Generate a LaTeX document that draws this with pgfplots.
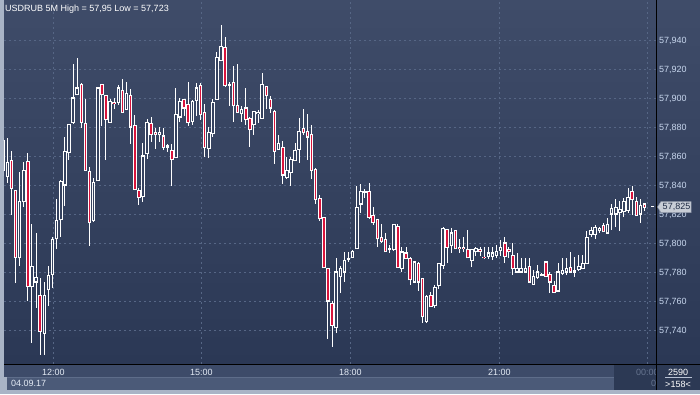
\documentclass[border=0pt]{standalone}
\usepackage{pgfplots}
\pgfplotsset{compat=1.18}
\usepackage{pgfplotstable}
\usepackage{fontspec}
\setmainfont{Liberation Sans}
\definecolor{bgtop}{HTML}{3F4C69}
\definecolor{bgbot}{HTML}{2B3855}
\definecolor{bgmid}{HTML}{35425F}
\definecolor{gridc}{HTML}{566685}
\definecolor{candred}{HTML}{D8143C}
\definecolor{lab}{HTML}{C8D7EE}
\definecolor{timec}{HTML}{E4EBF5}
\definecolor{framec}{HTML}{A9B4C6}
\definecolor{timerow}{HTML}{3D4B69}
\definecolor{daterow}{HTML}{4B5A78}
\definecolor{dateline}{HTML}{5E6D8A}
\definecolor{darkbox}{HTML}{2C3954}
\definecolor{graytxt}{HTML}{66748F}
\definecolor{pricebox}{HTML}{C8CDD6}
\definecolor{priceedge}{HTML}{8F97A8}
\definecolor{pricetxt}{HTML}{1F2B44}
\definecolor{sepline}{HTML}{B8C2D4}

\pgfplotstableread{
i o h l c
-1 57.8503 57.8724 57.8462 57.8710
0 57.8462 57.8724 57.8414 57.8552
1 57.8572 57.8634 57.8193 57.8379
2 57.8359 57.8366 57.7724 57.7903
3 57.7897 57.8490 57.7841 57.8283
4 57.8283 57.8559 57.8248 57.8503
5 57.8559 57.8621 57.7600 57.7703
6 57.7697 57.8131 57.7310 57.7841
7 57.7731 57.8069 57.7552 57.7759
8 57.7641 57.7759 57.7228 57.7393
9 57.7379 57.7731 57.7228 57.7641
10 57.7676 57.7841 57.7566 57.7779
11 57.7786 57.8041 57.7690 57.8021
12 57.8028 57.8303 57.7959 57.8152
13 57.8159 57.8434 57.8041 57.8421
14 57.8400 57.8731 57.8255 57.8634
15 57.8621 57.8821 57.8572 57.8814
16 57.8834 57.9234 57.8821 57.9000
17 57.9021 57.9276 57.9021 57.9069
18 57.9090 57.9103 57.8793 57.8834
19 57.8821 57.8993 57.8497 57.8503
20 57.8490 57.8524 57.7979 57.8138
21 57.8152 57.8448 57.8145 57.8414
22 57.8428 57.9076 57.8428 57.9069
23 57.9090 57.9090 57.8807 57.9021
24 57.9014 57.9014 57.8572 57.8855
25 57.8834 57.8993 57.8828 57.8979
26 57.8972 57.9000 57.8924 57.8959
27 57.8972 57.9090 57.8952 57.9069
28 57.9055 57.9131 57.8897 57.8903
29 57.8924 57.9110 57.8917 57.9034
30 57.9014 57.9062 57.8683 57.8800
31 57.8807 57.8883 57.8372 57.8372
32 57.8359 57.8379 57.8262 57.8317
33 57.8324 57.8690 57.8283 57.8600
34 57.8614 57.8855 57.8579 57.8834
35 57.8821 57.8869 57.8697 57.8745
36 57.8759 57.8793 57.8648 57.8745
37 57.8745 57.8800 57.8697 57.8759
38 57.8738 57.8793 57.8641 57.8662
39 57.8662 57.8683 57.8628 57.8669
40 57.8641 57.8683 57.8393 57.8579
41 57.8593 57.9069 57.8593 57.8883
42 57.8869 57.9000 57.8834 57.8979
43 57.8993 57.8993 57.8876 57.8931
44 57.8952 57.9110 57.8807 57.8834
45 57.8841 57.8986 57.8814 57.8979
46 57.8986 57.9103 57.8876 57.9069
47 57.9083 57.9103 57.8848 57.8883
48 57.8903 57.8959 57.8593 57.8662
49 57.8655 57.8800 57.8586 57.8759
50 57.8752 57.8993 57.8731 57.8972
51 57.8993 57.9317 57.8993 57.9276
52 57.9262 57.9503 57.9255 57.9352
53 57.9345 57.9421 57.9076 57.9083
54 57.9083 57.9110 57.8945 57.9090
55 57.9110 57.9221 57.8834 57.8945
56 57.8945 57.9234 57.8897 57.8903
57 57.8890 57.8945 57.8834 57.8924
58 57.8931 57.9069 57.8814 57.8855
59 57.8862 57.8869 57.8662 57.8786
60 57.8814 57.8910 57.8745 57.8910
61 57.8890 57.8917 57.8828 57.8903
62 57.8862 57.9172 57.8855 57.9090
63 57.9076 57.9083 57.8924 57.9014
64 57.8993 57.9014 57.8897 57.8931
65 57.8910 57.8917 57.8545 57.8634
66 57.8648 57.8745 57.8648 57.8683
67 57.8662 57.8703 57.8407 57.8469
68 57.8455 57.8593 57.8441 57.8503
69 57.8483 57.8593 57.8393 57.8579
70 57.8566 57.8690 57.8566 57.8641
71 57.8648 57.8862 57.8552 57.8772
72 57.8793 57.8924 57.8745 57.8759
73 57.8772 57.8890 57.8572 57.8731
74 57.8745 57.8814 57.8441 57.8503
75 57.8510 57.8517 57.8269 57.8303
76 57.8310 57.8331 57.8152 57.8166
77 57.8179 57.8179 57.7828 57.7828
78 57.7821 57.7821 57.7338 57.7600
79 57.7586 57.7600 57.7283 57.7434
80 57.7414 57.7897 57.7379 57.7800
81 57.7772 57.7841 57.7655 57.7821
82 57.7800 57.7938 57.7731 57.7876
83 57.7883 57.7938 57.7869 57.7890
84 57.7903 57.7952 57.7897 57.7938
85 57.7959 57.8393 57.7959 57.8248
86 57.8269 57.8407 57.8207 57.8352
87 57.8345 57.8372 57.8310 57.8352
88 57.8352 57.8414 57.8166 57.8179
89 57.8193 57.8248 57.8124 57.8138
90 57.8159 57.8159 57.7972 57.8028
91 57.8041 57.8131 57.8000 57.8007
92 57.8021 57.8069 57.7938 57.7938
93 57.7952 57.7986 57.7931 57.7959
94 57.7952 57.8131 57.7945 57.8131
95 57.8117 57.8131 57.7828 57.7834
96 57.7821 57.7972 57.7800 57.7938
97 57.7931 57.7972 57.7890 57.7890
98 57.7890 57.7903 57.7710 57.7745
99 57.7731 57.7876 57.7724 57.7869
100 57.7862 57.7869 57.7669 57.7731
101 57.7752 57.7752 57.7448 57.7490
102 57.7462 57.7641 57.7448 57.7628
103 57.7641 57.7662 57.7559 57.7559
104 57.7572 57.7710 57.7552 57.7690
105 57.7710 57.7862 57.7683 57.7862
106 57.7848 57.8110 57.7821 57.8103
107 57.8090 57.8097 57.7862 57.7972
108 57.7986 57.8103 57.7931 57.8069
109 57.8083 57.8090 57.7959 57.7959
110 57.7972 57.8028 57.7931 57.7959
111 57.7972 57.8041 57.7938 57.7959
112 57.7952 57.8090 57.7897 57.7897
113 57.7876 57.7959 57.7834 57.7952
114 57.7938 57.7972 57.7910 57.7959
115 57.7952 57.7972 57.7910 57.7938
116 57.7903 57.7972 57.7890 57.7897
117 57.7910 57.7972 57.7890 57.7931
118 57.7910 57.7972 57.7883 57.7931
119 57.7917 57.7986 57.7897 57.7938
120 57.7945 57.8021 57.7910 57.7966
121 57.8000 57.8041 57.7862 57.7910
122 57.7952 57.7972 57.7897 57.7938
123 57.7917 57.8000 57.7779 57.7821
124 57.7800 57.7931 57.7793 57.7821
125 57.7800 57.7897 57.7793 57.7821
126 57.7800 57.7897 57.7793 57.7821
127 57.7841 57.7897 57.7724 57.7731
128 57.7717 57.7814 57.7710 57.7766
129 57.7759 57.7848 57.7752 57.7800
130 57.7779 57.7793 57.7772 57.7786
131 57.7869 57.7869 57.7772 57.7772
132 57.7786 57.7800 57.7655 57.7731
133 57.7710 57.7738 57.7655 57.7662
134 57.7669 57.7862 57.7662 57.7800
135 57.7793 57.7897 57.7779 57.7807
136 57.7800 57.7897 57.7779 57.7821
137 57.7828 57.7938 57.7793 57.7800
138 57.7800 57.7903 57.7766 57.7807
139 57.7814 57.7917 57.7807 57.7841
140 57.7821 57.7917 57.7821 57.7862
141 57.7862 57.8083 57.7862 57.8041
142 57.8062 57.8110 57.8041 57.8083
143 57.8062 57.8124 57.8028 57.8110
144 57.8083 57.8110 57.8069 57.8097
145 57.8124 57.8138 57.8076 57.8076
146 57.8069 57.8172 57.8069 57.8131
147 57.8200 57.8269 57.8090 57.8241
148 57.8200 57.8303 57.8110 57.8248
149 57.8207 57.8290 57.8083 57.8228
150 57.8214 57.8310 57.8179 57.8283
151 57.8221 57.8379 57.8207 57.8317
152 57.8352 57.8393 57.8193 57.8297
153 57.8283 57.8317 57.8186 57.8193
154 57.8200 57.8303 57.8138 57.8262
155 57.8269 57.8269 57.8221 57.8248
}\candles

\pgfplotsset{candle/.style={only marks, mark=none, mark size=0pt,
  mark options={draw=none, fill=none}, forget plot}}

\begin{document}
\begin{tikzpicture}[x=1pt,y=1pt,font=\fontsize{9}{10}\selectfont]
% frame and backgrounds
\fill[framec] (0,0) rectangle (700,394);
\shade[top color=bgtop, bottom color=bgbot] (4,30) rectangle (700,394);
\fill[timerow] (4,17) rectangle (656,30);
\fill[daterow] (7,4) rectangle (614,16.5);
\draw[dateline, line width=0.6pt] (7,16.5) -- (614,16.5);
\fill[darkbox] (614,4) rectangle (656,30);

\begin{axis}[
  at={(4pt,30pt)}, anchor=south west,
  scale only axis, width=652pt, height=364pt,
  xmin=-0.803, xmax=157.79,
  ymin=57.71655, ymax=57.96759,
  axis line style={draw=none},
  major tick length=0pt,
  tick style={draw=none},
  scaled y ticks=false,
  xtick={11.19,47.19,83.43,119.68,155.68},
  xticklabels={12:00,15:00,18:00,21:00,{\textcolor{graytxt}{00:00}}},
  ytick={57.74,57.76,57.78,57.80,57.82,57.84,57.86,57.88,57.90,57.92,57.94},
  yticklabel pos=right,
  grid=major,
  major grid style={draw=gridc, line width=0.9pt, dash pattern=on 2pt off 3pt},
  /pgf/number format/assume math mode=true,
  tick label style={font=\fontsize{9}{10}\selectfont},
  yticklabel style={text=lab, anchor=west, inner sep=0pt, xshift=3pt, yshift=-1pt,
    /pgf/number format/.cd, fixed, fixed zerofill, precision=3, use comma},
  xticklabel style={text=timec, anchor=north, inner sep=0pt, yshift=-5pt},
  clip=true,
]
% wicks
\addplot[candle,
  error bars/.cd, y dir=plus, y explicit, error mark=none,
  error bar style={draw=white, line width=1pt}]
  table[x=i, y=l, y error plus expr={\thisrow{h}-\thisrow{l}}] {\candles};
% body outlines
\addplot[candle,
  error bars/.cd, y dir=plus, y explicit, error mark=none,
  error bar style={draw=white, line width=3.6pt}]
  table[x=i, y expr={min(\thisrow{o},\thisrow{c})-0.00035},
        y error plus expr={abs(\thisrow{o}-\thisrow{c})+0.0007}] {\candles};
% down candles: red inside
\addplot[candle,
  restrict expr to domain={\thisrow{o}-\thisrow{c}}{0.00001:1},
  error bars/.cd, y dir=plus, y explicit, error mark=none,
  error bar style={draw=candred, line width=1.6pt}]
  table[x=i, y expr={\thisrow{c}+0.00035},
        y error plus expr={max(\thisrow{o}-\thisrow{c}-0.0007,0.0003)}] {\candles};
% up candles: hollow inside
\addplot[candle,
  restrict expr to domain={\thisrow{c}-\thisrow{o}}{0.0008:1},
  error bars/.cd, y dir=plus, y explicit, error mark=none,
  error bar style={draw=bgmid, line width=1.6pt}]
  table[x=i, y expr={\thisrow{o}+0.00035},
        y error plus expr={\thisrow{c}-\thisrow{o}-0.0007}] {\candles};
% current price marker
\addplot[only marks, mark=-, mark size=1.6pt, mark options={draw=white, line width=1.3pt}]
  coordinates {(157.0,57.825)};
\end{axis}

% right bottom cell
\fill[darkbox] (657,4) rectangle (700,29.5);
\draw[black, line width=1pt] (4,29.5) -- (700,29.5);
\draw[black, line width=1.2pt] (656.5,4) -- (656.5,394);
\node[text=white, inner sep=0pt] at (678,22) {2590};
\draw[sepline, line width=0.6pt] (665,16.3) -- (692,16.3);
\node[text=white, inner sep=0pt] at (678,9.5) {>158<};
\node[text=graytxt, inner sep=0pt, anchor=base] at (653.5,8) {0};
\node[text=timec, inner sep=0pt, anchor=base west] at (11,8) {04.09.17};

% price box
\filldraw[fill=pricebox, draw=priceedge, line width=0.5pt]
  (657.5,187) -- (661,192.5) -- (691,192.5) -- (691,181.5) -- (661,181.5) -- cycle;
\node[text=pricetxt, inner sep=0pt] at (676.5,186.6) {57,825};

% title
\node[text=white, inner sep=0pt, anchor=base west] at (5,382.7) {USDRUB 5M High = 57,95 Low = 57,723};

\pgfresetboundingbox
\useasboundingbox (0,0) rectangle (700,394);
\end{tikzpicture}
\end{document}
